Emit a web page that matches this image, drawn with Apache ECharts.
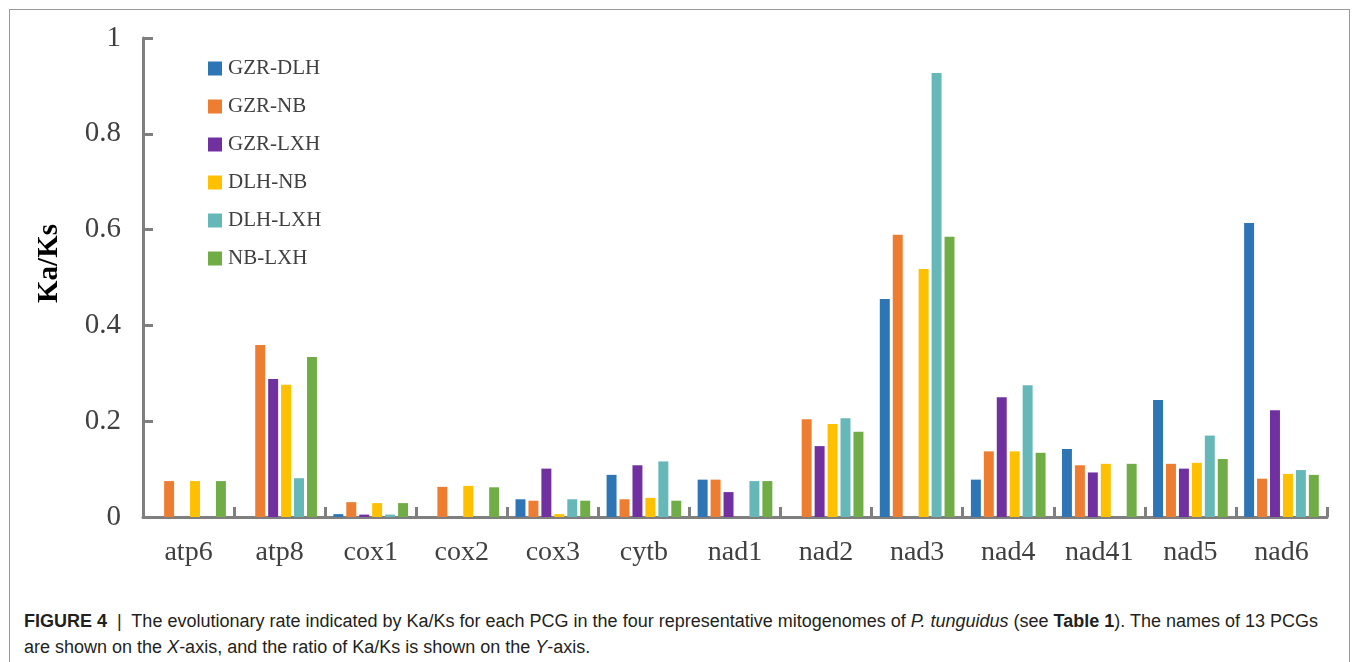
<!DOCTYPE html>
<html>
<head>
    <meta charset="utf-8">
    <title>Ka/Ks</title>
    <script type="text/javascript" src="https://cdn.jsdelivr.net/npm/echarts@6/dist/echarts.min.js"></script>
    <style type="text/css">
        body{
            margin: 0;
            background: #fff;
            width: 1355px;
            height: 662px;
            overflow: hidden;
            position: relative;
        }
        .frame{
            position: absolute;
            left: 9px;
            top: 9px;
            width: 1341px;
            height: 700px;
            border: 1px solid #9a9a9a;
            box-sizing: border-box;
        }
        #chart{
            position: absolute;
            left: 0;
            top: 0;
            width: 1355px;
            height: 600px;
        }
        .caption{
            position: absolute;
            left: 24px;
            top: 608px;
            width: 1325px;
            font-family: "Liberation Sans", Arial, sans-serif;
            font-size: 18px;
            line-height: 26px;
            color: #231f20;
            white-space: nowrap;
        }
    </style>
</head>
<body>
<div class="frame"></div>
<div id="chart"></div>
<div class="caption">
    <b>FIGURE 4</b> &nbsp;|&nbsp; The evolutionary rate indicated by Ka/Ks for each PCG in the four representative mitogenomes of <i>P. tunguidus</i> (see <b>Table 1</b>). The names of 13 PCGs<br>
    are shown on the <i>X</i>-axis, and the ratio of Ka/Ks is shown on the <i>Y</i>-axis.
</div>
<script type="text/javascript">
    // genes on x axis
    let genes = ['atp6', 'atp8', 'cox1', 'cox2', 'cox3', 'cytb', 'nad1', 'nad2', 'nad3', 'nad4', 'nad41', 'nad5', 'nad6'];
    let yTicks = [0, 0.2, 0.4, 0.6, 0.8, 1];

    // Ka/Ks per pair
    let gzrDlh = [0, 0, 0.006, 0, 0.037, 0.088, 0.078, 0, 0.455, 0.078, 0.142, 0.244, 0.614];
    let gzrNb  = [0.075, 0.359, 0.031, 0.063, 0.034, 0.037, 0.078, 0.204, 0.589, 0.137, 0.108, 0.111, 0.080];
    let gzrLxh = [0, 0.288, 0.005, 0, 0.101, 0.108, 0.052, 0.148, 0, 0.250, 0.093, 0.101, 0.223];
    let dlhNb  = [0.075, 0.276, 0.029, 0.065, 0.006, 0.040, 0, 0.194, 0.518, 0.137, 0.111, 0.113, 0.090];
    let dlhLxh = [0, 0.081, 0.005, 0, 0.037, 0.116, 0.075, 0.206, 0.927, 0.275, 0, 0.170, 0.098];
    let nbLxh  = [0.075, 0.334, 0.029, 0.062, 0.034, 0.034, 0.075, 0.178, 0.585, 0.134, 0.111, 0.121, 0.088];

    let names = ['GZR-DLH', 'GZR-NB', 'GZR-LXH', 'DLH-NB', 'DLH-LXH', 'NB-LXH'];
    let colors = ['#2e75b6', '#ed7d31', '#7030a0', '#ffc000', '#66b8b8', '#70ad47'];
    let allData = [gzrDlh, gzrNb, gzrLxh, dlhNb, dlhLxh, nbLxh];

    let axisColor = '#7f7f7f';
    let textColor = '#404040';
    let serif = '"Liberation Serif", "Times New Roman", serif';

    let series = allData.map(function (d, i) {
        return {
            name: names[i],
            type: 'bar',
            data: d,
            barGap: '30%',
            barCategoryGap: '18%',
            itemStyle: {color: colors[i]}
        };
    });

    let chart = echarts.init(document.getElementById('chart'), null, {renderer: 'canvas'});
    chart.setOption({
        animation: false,
        color: colors,
        grid: {left: 143, right: 28, top: 38, bottom: 83},
        legend: {
            orient: 'vertical',
            left: 203,
            top: 53,
            itemWidth: 14,
            itemHeight: 14,
            itemGap: 17,
            icon: 'rect',
            data: names,
            textStyle: {fontFamily: serif, fontSize: 21, color: textColor, padding: [0, 0, 0, 1]}
        },
        graphic: [{
            type: 'text',
            left: 35,
            top: 224,
            rotation: Math.PI / 2,
            style: {text: 'Ka/Ks', font: 'bold 29px ' + serif, fill: '#000'}
        }],
        xAxis: {
            type: 'category',
            data: genes,
            axisLine: {lineStyle: {color: axisColor, width: 3}},
            axisTick: {show: true, inside: true, length: 10, lineStyle: {color: axisColor, width: 3}},
            axisLabel: {fontFamily: serif, fontSize: 28, color: textColor, margin: 22}
        },
        yAxis: {
            type: 'value',
            min: yTicks[0],
            max: yTicks[yTicks.length - 1],
            interval: 0.2,
            splitLine: {show: false},
            axisLine: {show: true, lineStyle: {color: axisColor, width: 3}},
            axisTick: {show: true, inside: true, length: 10, lineStyle: {color: axisColor, width: 3}},
            axisLabel: {fontFamily: serif, fontSize: 29, color: textColor, margin: 22}
        },
        series: series
    });
</script>
</body>
</html>
